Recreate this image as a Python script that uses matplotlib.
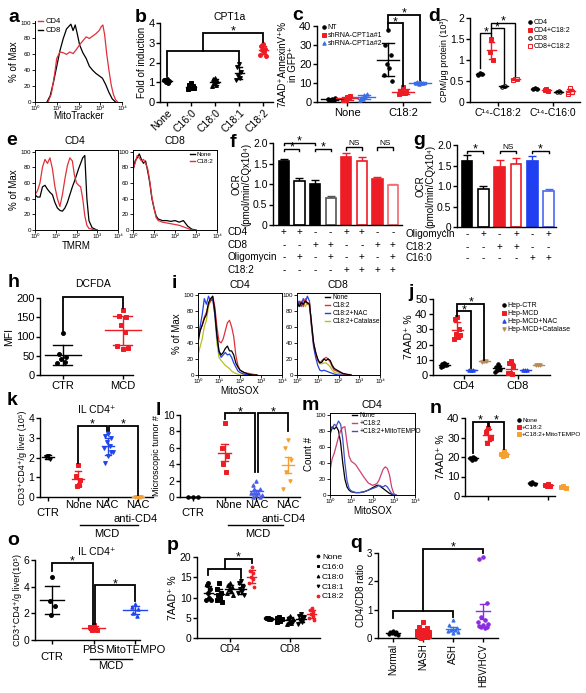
import matplotlib
matplotlib.use('Agg')
import matplotlib.pyplot as plt
import matplotlib.transforms as mtransforms
from matplotlib.lines import Line2D
import numpy as np

plt.rcParams['font.family'] = ['Liberation Sans', 'DejaVu Sans']
plt.rcParams['axes.linewidth'] = 1.0
plt.rcParams['xtick.major.width'] = 1.0
plt.rcParams['ytick.major.width'] = 1.0

RED = '#ee1c24'
BLUE = '#2346e8'
ORANGE = '#f5a030'
TAN = '#b88a58'
OLIVE = '#b8c020'
PURPLE = '#8a2be2'

# ---------------- data ----------------
# a: MitoTracker histograms (log10 x, % of max)
a_lx_cd4 = [0.6, 0.75, 0.9, 1.0, 1.15, 1.3, 1.45, 1.6, 1.75, 1.9, 2.05, 2.2, 2.35, 2.5, 2.65, 2.8, 2.95, 3.05, 3.12, 3.2, 3.3, 3.4, 3.5, 3.6, 3.7, 3.8]
a_y_cd4 = [0, 10, 35, 55, 63, 62, 60, 63, 61, 66, 72, 77, 82, 80, 83, 86, 90, 95, 97, 85, 60, 40, 22, 10, 3, 0]
a_lx_cd8 = [0.55, 0.7, 0.85, 1.0, 1.15, 1.3, 1.45, 1.55, 1.65, 1.75, 1.85, 1.95, 2.05, 2.2, 2.35, 2.5, 2.65, 2.8, 2.95, 3.1, 3.25, 3.4, 3.55, 3.7]
a_y_cd8 = [0, 8, 25, 45, 65, 80, 92, 95, 98, 90, 97, 85, 72, 62, 55, 45, 40, 36, 33, 30, 22, 12, 4, 0]

# b: CPT1a fold of induction
b_cats = ['None', 'C16:0', 'C18:0', 'C18:1', 'C18:2']
b_vals = [[1.15, 1.1, 1.05, 1.0, 0.95, 1.1],
          [0.95, 0.85, 0.8, 0.75, 0.7, 0.65, 0.7],
          [1.2, 1.15, 1.05, 1.0, 0.85, 0.8],
          [1.9, 1.75, 1.5, 1.3, 1.2, 1.1],
          [2.95, 2.85, 2.7, 2.65, 2.55, 2.4, 2.35]]

# c: 7AAD+AnnexinV+ in GFP+
c_cats = ['None', 'C18:2']
c_nt = [[1.5, 1.0, 2.0, 1.2, 0.8, 1.8], [38, 30, 25, 20, 18, 14, 11]]
c_sh1 = [[2.5, 1.5, 3.0, 1.0, 2.0, 1.2], [8, 6, 5.5, 5, 4.5, 4]]
c_sh2 = [[3.5, 2.0, 4.0, 1.5, 2.5, 1.0], [11, 10.5, 10, 9.5, 9.8, 10.2]]

# d: CPM/ug protein
d_cats = ['C\u00b9\u2074-C18:2', 'C\u00b9\u2074-C16:0']
d_cd4 = [[0.7, 0.65, 0.66], [0.33, 0.31, 0.32]]
d_cd4_182 = [[1.5, 1.2, 1.0], [0.3, 0.28, 0.27]]
d_cd8 = [[0.38, 0.36, 0.37], [0.26, 0.25, 0.24]]
d_cd8_182 = [[0.55, 0.52, 0.54], [0.33, 0.2, 0.24]]

# e: TMRM histograms
e4_lx = [0, 0.12, 0.24, 0.36, 0.48, 0.6, 0.72, 0.84, 0.96, 1.08, 1.2, 1.32, 1.44, 1.56, 1.68, 1.8, 1.9, 2.0, 2.1, 2.2, 2.3, 2.4, 2.5, 2.6, 2.75, 2.9, 3.0]
e4_red = [45, 50, 60, 80, 90, 85, 92, 78, 55, 40, 30, 45, 65, 82, 92, 88, 70, 60, 57, 55, 40, 18, 6, 2, 1, 0, 0]
e4_black = [45, 42, 42, 55, 57, 52, 48, 45, 35, 28, 25, 24, 28, 35, 45, 55, 62, 70, 78, 85, 92, 95, 40, 12, 3, 1, 0]
e8_lx = [0, 0.1, 0.2, 0.3, 0.4, 0.5, 0.6, 0.7, 0.8, 0.9, 1.0, 1.1, 1.2, 1.4, 1.6, 1.8, 2.0, 2.2, 2.4, 2.6, 2.8, 3.0]
e8_black = [75, 88, 92, 97, 90, 85, 88, 75, 60, 40, 28, 18, 14, 12, 12, 11, 12, 10, 12, 5, 1, 0]
e8_red = [78, 85, 95, 92, 88, 90, 85, 78, 62, 42, 28, 16, 12, 10, 9, 8, 7, 6, 4, 2, 0, 0]

# f: OCR bars
f_vals = [1.55, 1.07, 1.0, 0.66, 1.65, 1.57, 1.12, 0.97]
f_errs = [0.05, 0.07, 0.09, 0.05, 0.1, 0.1, 0.04, 0.03]
f_rows = {'CD4': '++--++--', 'CD8': '--++--++', 'Oligomycin': '-+-+-+-+', 'C18:2': '----++++'}

# g: OCR bars
g_vals = [1.62, 0.93, 1.47, 1.53, 1.62, 0.88]
g_errs = [0.14, 0.08, 0.16, 0.15, 0.1, 0.05]
g_rows = {'Oligomycin': '-+-+-+', 'C18:2': '--++--', 'C16:0': '----++'}

# h: DCFDA MFI
h_cats = ['CTR', 'MCD']
h_ctr = [108, 55, 48, 42, 35, 30]
h_mcd = [170, 152, 150, 130, 112, 75, 70, 68]

# i: MitoSOX histograms
i4_lx = [0, 0.1, 0.2, 0.3, 0.4, 0.5, 0.6, 0.7, 0.8, 0.9, 1.0, 1.1, 1.2, 1.3, 1.4, 1.5, 1.6, 1.7, 1.8, 1.9, 2.0, 2.2, 2.4, 2.6, 2.8]
i4_black = [40, 55, 62, 70, 75, 90, 95, 98, 80, 50, 30, 25, 28, 33, 36, 30, 30, 25, 15, 10, 6, 3, 1, 0, 0]
i4_red = [45, 55, 62, 72, 78, 88, 92, 98, 85, 60, 42, 40, 45, 55, 65, 68, 60, 48, 25, 12, 6, 3, 2, 1, 0]
i4_blue = [45, 60, 75, 95, 88, 98, 92, 95, 75, 48, 28, 22, 25, 28, 25, 26, 22, 15, 10, 5, 3, 1, 0, 0, 0]
i4_yel = [25, 35, 45, 60, 68, 85, 92, 95, 75, 40, 22, 18, 15, 12, 10, 8, 5, 3, 2, 1, 0, 0, 0, 0, 0]
i8_lx = [0, 0.1, 0.2, 0.3, 0.4, 0.5, 0.6, 0.7, 0.8, 0.9, 1.0, 1.1, 1.2, 1.3, 1.4, 1.5, 1.6, 1.7, 1.8, 2.0, 2.2, 2.4, 2.6]
i8_black = [92, 85, 90, 88, 92, 90, 88, 65, 40, 28, 20, 15, 16, 20, 18, 20, 18, 12, 8, 5, 2, 1, 0]
i8_red = [90, 88, 92, 85, 95, 88, 90, 62, 40, 28, 18, 15, 18, 20, 22, 20, 16, 10, 6, 4, 2, 0, 0]
i8_blue = [88, 92, 85, 95, 90, 98, 92, 60, 35, 22, 12, 6, 5, 6, 5, 4, 3, 2, 1, 0, 0, 0, 0]
i8_yel = [85, 90, 88, 92, 85, 90, 85, 60, 38, 25, 18, 14, 14, 15, 15, 13, 10, 6, 3, 2, 1, 0, 0]

# j: 7AAD+ %
j_cats = ['CD4', 'CD8']
j_ctr = [[8, 7, 6.5, 6, 7.5, 5.5], [7, 5, 4, 3, 6, 2]]
j_mcd = [[38, 37, 30, 27, 25, 24, 26], [9, 8, 6, 1, 0.5, 1]]
j_nac = [[3.5, 3.4, 3.6], [3.5, 3.6, 3.4]]
j_cat = [[9, 8.8, 9.2], [6.5, 6.3, 6.7]]

# k: IL CD4+ numbers
k_ctr = [2.1, 2.05, 1.9]
k_none = [1.6, 1.05, 0.85, 0.55, 0.6]
k_nac = [3.2, 3.1, 3.0, 2.8, 2.6, 2.5, 2.3, 2.1, 1.7, 2.3]
k_anti = [0, 0, 0, 0, 0]

# l: microscopic tumor #
l_ctr = [0, 0, 0]
l_none = [9, 6, 5, 4, 3]
l_nac = [2, 1.5, 1, 1, 0.5, 0.5, 0.3, 0.2, 0, 0, 0.5]
l_anti = [7, 6, 4.5, 3, 2, 1]

# m: MitoSOX histograms
m_lx = [0, 0.1, 0.2, 0.3, 0.4, 0.5, 0.6, 0.7, 0.8, 0.9, 1.0, 1.2, 1.4, 1.6, 1.8, 2.0, 2.2, 2.3, 2.4, 2.5, 2.6, 2.7, 2.8, 2.9, 3.0, 3.1]
m_black = [75, 85, 82, 85, 80, 65, 40, 20, 10, 6, 4, 3, 3, 4, 6, 9, 12, 12, 10, 8, 6, 4, 2, 1, 0, 0]
m_red = [30, 45, 52, 62, 72, 80, 84, 85, 65, 48, 42, 38, 30, 22, 15, 12, 14, 18, 25, 32, 35, 33, 25, 10, 2, 0]
m_blue = [85, 82, 88, 86, 92, 88, 70, 40, 18, 8, 5, 3, 3, 4, 6, 8, 10, 12, 11, 10, 12, 10, 6, 2, 0, 0]

# n: 7AAD+ %
n_none = [[20, 19.5, 19, 18.5, 19.5], [7, 6.5, 6, 6.2]]
n_c182 = [[35, 33, 30, 27], [6, 5.5, 5, 5.2]]
n_mito = [[23, 21.5, 21, 20.5], [5, 4.5, 4, 4.5]]

# o: IL CD4+ numbers
o_ctr = [4.75, 2.9, 2.55, 1.9]
o_pbs = [1.1, 0.95, 0.75, 0.75, 0.9]
o_mito = [2.7, 2.45, 2.3, 2.0, 1.8]

# p: 7AAD+ %
p_cats = ['CD4', 'CD8']
p_names = ['None', 'C16:0', 'C18:0', 'C18:1', 'C18:2']
p_vals = [[[13.5, 13, 12, 11, 10, 9.5, 9.5], [5, 4.9, 4.8, 4.7, 4.9, 5, 4.6]],
          [[13.5, 12, 11, 10.5, 10, 9.5, 9], [5.2, 5, 4.6, 4.5, 4.3, 4, 4.8]],
          [[13.5, 13, 12.5, 12, 11.5, 11, 10.5], [5.5, 5, 4.5, 4, 3.8, 3.5, 4.7]],
          [[14, 13.5, 12.5, 12, 11.5, 11, 10.5], [6, 5.5, 5, 4.5, 4, 3.5, 5.2]],
          [[17.5, 16.5, 16, 15, 14.5, 13.5, 12.5], [7.5, 7, 6.5, 6, 5.5, 5, 4.5]]]

# q: CD4/CD8 ratio
q_cats = ['Normal', 'NASH', 'ASH', 'HBV/HCV']
q_normal = [0.25, 0.22, 0.2, 0.18, 0.15, 0.15, 0.12]
q_nash = [0.55, 0.4, 0.35, 0.3, 0.3, 0.25, 0.2, 0.2, 0.18, 0.15, 0.12, 0.1, 0.1, 0.08, 0.05, 0.05, 0.02, 0.0, 0.15, 0.22]
q_ash = [0.62, 0.45, 0.35, 0.3, 0.28, 0.25, 0.2, 0.18]
q_hbv = [2.85, 2.8, 1.25, 0.75, 0.65, 0.55, 0.5, 0.45, 0.42, 0.4, 0.38, 0.35]

# ---------------- helpers ----------------
W, H = 586, 693
fig = plt.figure(figsize=(W / 100, H / 100), dpi=100)


def add_ax(x0, y0, x1, y1):
    return fig.add_axes([x0 / W, 1 - y1 / H, (x1 - x0) / W, (y1 - y0) / H])


def ftext(x, y, s, **kw):
    fig.text(x / W, 1 - y / H, s, **kw)


def letter(x, y, s):
    ftext(x, y, s, fontsize=14, fontweight='bold', va='baseline', ha='left')


def scat_style(ax, fs=8):
    for s in ['top', 'right']:
        ax.spines[s].set_visible(False)
    ax.tick_params(direction='out', length=3, width=1, labelsize=fs, pad=1)


def group(ax, x, vals, color, marker='o', ms=3, err='sd', mfc=None, spread=0.08,
          ecol=None, mw=0.2, cw=0.1, lw=1.0):
    v = np.asarray(vals, float)
    n = len(v)
    pattern = np.array([0, -1, 1, -0.5, 0.5, -1.5, 1.5])
    offs = spread * np.resize(pattern, n)
    ax.plot(x + offs, v, ls='none', marker=marker, ms=ms, mec=color,
            mfc=color if mfc is None else mfc, mew=0.7, clip_on=False, zorder=3)
    m = v.mean()
    e = v.std() if err == 'sd' else v.std(ddof=1) / np.sqrt(n)
    ec = color if ecol is None else ecol
    ax.plot([x - mw, x + mw], [m, m], color=ec, lw=lw, zorder=4, clip_on=False)
    ax.plot([x, x], [m - e, m + e], color=ec, lw=lw, zorder=4, clip_on=False)
    ax.plot([x - cw, x + cw], [m - e, m - e], color=ec, lw=lw, zorder=4, clip_on=False)
    ax.plot([x - cw, x + cw], [m + e, m + e], color=ec, lw=lw, zorder=4, clip_on=False)


def bracket(ax, x1, x2, y, y1, y2, s=None, fs=9, lw=1.3, dy=-3.5):
    ax.plot([x1, x1, x2, x2], [y1, y, y, y2], color='k', lw=lw, clip_on=False,
            solid_joinstyle='miter', zorder=5)
    if s:
        ax.annotate(s, ((x1 + x2) / 2, y), xytext=(0, dy), textcoords='offset points',
                    ha='center', va='bottom', fontsize=fs, annotation_clip=False)


def hist_ax(ax, curves, box=True):
    for lx, ly, col in curves:
        ax.plot(10 ** np.asarray(lx, float), ly, color=col, lw=0.9)
    ax.set_xscale('log')
    ax.set_xlim(1, 1e4)
    ax.set_ylim(0, 102)
    ax.set_xticks([1, 10, 100, 1e3, 1e4])
    ax.set_xticklabels(['10\u2070', '10\u00b9', '10\u00b2', '10\u00b3', '10\u2074'])
    ax.minorticks_off()
    ax.set_yticks([0, 20, 40, 60, 80, 100])
    ax.tick_params(labelsize=4.5, length=2, width=0.6, pad=1)
    for s in ax.spines.values():
        s.set_linewidth(0.7)
    if not box:
        ax.spines['top'].set_visible(False)
        ax.spines['right'].set_visible(False)


def leg(ax, handles, labels, x, y, fs=5, hl=0.8, ls=0.2):
    ax.legend(handles, labels, loc='upper left', bbox_to_anchor=(x / W, 1 - y / H),
              bbox_transform=fig.transFigure, frameon=False, fontsize=fs,
              borderaxespad=0, borderpad=0, handlelength=hl, handletextpad=0.3,
              labelspacing=ls)


def mk(color, marker, ms=2.5, mfc=None):
    return Line2D([], [], ls='none', marker=marker, ms=ms, color=color,
                  mfc=color if mfc is None else mfc, mew=0.7)


def ln(color):
    return Line2D([], [], color=color, lw=1)


def bars(ax, vals, errs, fcs, ecs, width=0.66):
    x = np.arange(len(vals))
    ax.bar(x, vals, width, color=fcs, edgecolor=ecs, linewidth=1.2, zorder=2)
    for xi, v, e, ec in zip(x, vals, errs, ecs):
        ax.errorbar(xi, v, yerr=[[0], [e]], color=ec, capsize=3, lw=1, capthick=1, zorder=1)
    for s in ['top', 'right']:
        ax.spines[s].set_visible(False)
    ax.set_xticks([])
    ax.set_ylim(0, 2)
    ax.tick_params(direction='out', length=3, labelsize=7.5, pad=1)


def sign_rows(ax, rows, label_x, ys, fs=7.2):
    tr = mtransforms.blended_transform_factory(ax.transData, fig.transFigure)
    for (name, signs), yy in zip(rows.items(), ys):
        ftext(label_x, yy, name, fontsize=fs, va='center', ha='left')
        for i, sg in enumerate(signs):
            ax.text(i, 1 - yy / H, sg, transform=tr, fontsize=fs, ha='center', va='center')


# ---------------- a ----------------
ax = add_ax(35, 21, 122, 102)
hist_ax(ax, [(a_lx_cd8, a_y_cd8, 'k'), (a_lx_cd4, a_y_cd4, '#e0303a')], box=False)
ax.set_ylabel('% of Max', fontsize=7, labelpad=1)
ax.set_xlabel('MitoTracker', fontsize=7, labelpad=0)
leg(ax, [ln('#e0303a'), ln('k')], ['CD4', 'CD8'], 38, 18, fs=5.5, hl=0.7)
letter(8, 22, 'a')

# ---------------- b ----------------
ax = add_ax(160, 23, 273, 102)
scat_style(ax)
b_markers = ['o', 's', '^', 'v', 'o']
for i, vals in enumerate(b_vals):
    col = RED if i == 4 else 'k'
    group(ax, i, vals, col, b_markers[i], ms=2.8)
ax.set_xlim(-0.3, 4.4)
ax.set_ylim(0, 4)
ax.set_yticks([0, 1, 2, 3, 4])
ax.set_xticks(range(5))
ax.set_xticklabels(b_cats, rotation=45, ha='right', rotation_mode='anchor', fontsize=7.5)
ax.set_ylabel('Fold of induction', fontsize=7, labelpad=1)
bracket(ax, 0, 3, 2.6, 1.3, 1.95)
bracket(ax, 1.5, 4, 3.5, 2.6, 3.05, '*')
ftext(230, 17, 'CPT1a', fontsize=7.5, ha='center', va='center')
letter(135, 22, 'b')

# ---------------- c ----------------
ax = add_ax(317, 26, 430, 102)
scat_style(ax)
offs = [-0.27, 0, 0.3]
for ci in range(2):
    group(ax, ci + offs[0], c_nt[ci], 'k', 'o', ms=2.5, spread=0.05)
    group(ax, ci + offs[1], c_sh1[ci], RED, 's', ms=2.5, spread=0.05)
    group(ax, ci + offs[2], c_sh2[ci], '#3a6ee8', '^', ms=2.5, spread=0.05)
ax.set_xlim(-0.54, 1.48)
ax.set_ylim(0, 40)
ax.set_yticks([0, 10, 20, 30, 40])
ax.set_xticks([0, 1])
ax.set_xticklabels(c_cats, fontsize=8)
ax.set_ylabel('7AAD\u207aAnnexinV\u207a%\nin GFP\u207a', fontsize=7, labelpad=1, linespacing=1.0)
bracket(ax, 1 - 0.27, 1, 41.5, 38, 8.5, '*')
bracket(ax, 1 - 0.27, 1.3, 46, 41.5, 11.5, '*')
leg(ax, [mk('k', 'o'), mk(RED, 's'), mk('#3a6ee8', '^')],
    ['NT', 'shRNA-CPT1a#1', 'shRNA-CPT1a#2'], 322, 24, fs=5, hl=0.5, ls=0.15)
letter(292, 20, 'c')

# ---------------- d ----------------
ax = add_ax(470, 18, 580, 102)
scat_style(ax, fs=7.5)
doffs = [-0.32, -0.11, 0.11, 0.32]
for ci in range(2):
    group(ax, ci + doffs[0], d_cd4[ci], 'k', 'o', ms=2.5, spread=0.03, mw=0.08, cw=0.05)
    group(ax, ci + doffs[1], d_cd4_182[ci], RED, 's', ms=2.5, spread=0.03, mw=0.08, cw=0.05)
    group(ax, ci + doffs[2], d_cd8[ci], 'k', 'o', ms=2.5, mfc='w', spread=0.03, mw=0.08, cw=0.05)
    group(ax, ci + doffs[3], d_cd8_182[ci], RED, 's', ms=2.5, mfc='w', spread=0.03, mw=0.08, cw=0.05)
ax.set_xlim(-0.5, 1.5)
ax.set_ylim(0, 2)
ax.set_yticks([0, 0.5, 1, 1.5, 2])
ax.set_yticklabels(['0', '0.5', '1', '1.5', '2'])
ax.set_xticks([0, 1])
ax.set_xticklabels(d_cats, fontsize=7.5)
ax.set_ylabel('CPM/\u03bcg protein (10\u00b3)', fontsize=6.5, labelpad=1)
bracket(ax, doffs[0], doffs[1], 1.64, 0.8, 1.58, '*', lw=1.0)
bracket(ax, doffs[1], doffs[2], 1.76, 1.64, 0.45, '*', lw=1.0)
bracket(ax, doffs[1], doffs[3], 1.88, 1.76, 0.62, '*', lw=1.0)
leg(ax, [mk('k', 'o'), mk(RED, 's'), mk('k', 'o', mfc='w'), mk(RED, 's', mfc='w')],
    ['CD4', 'CD4+C18:2', 'CD8', 'CD8+C18:2'], 528, 19, fs=5, hl=0.5, ls=0.15)
letter(428, 21, 'd')

# ---------------- e ----------------
ax = add_ax(35, 150, 118, 230)
hist_ax(ax, [(e4_lx, e4_black, 'k'), (e4_lx, e4_red, '#e0303a')])
ax.set_ylabel('% of Max', fontsize=7, labelpad=1)
ax.set_xlabel('TMRM', fontsize=7, labelpad=1)
ftext(75, 141, 'CD4', fontsize=7.5, ha='center', va='center')
ax = add_ax(133, 150, 217, 230)
hist_ax(ax, [(e8_lx, e8_black, 'k'), (e8_lx, e8_red, '#e0303a')])
ftext(175, 141, 'CD8', fontsize=7.5, ha='center', va='center')
leg(ax, [ln('k'), ln('#e0303a')], ['None', 'C18:2'], 190, 152, fs=4.5, hl=0.8, ls=0.2)
letter(6, 145, 'e')

# ---------------- f ----------------
ax = add_ax(273, 143, 402, 225)
f_fc = ['k', 'w', 'k', 'w', RED, 'w', RED, 'w']
f_ec = ['k', 'k', 'k', '#555555', RED, RED, RED, '#f06a70']
bars(ax, f_vals, f_errs, f_fc, f_ec)
ax.set_xlim(-0.7, 7.58)
ax.set_yticks([0, 0.5, 1.0, 1.5, 2.0])
ax.set_yticklabels(['0', '0.5', '1.0', '1.5', '2.0'])
ax.set_ylabel('OCR\n(pmol/min/CQx10\u2074)', fontsize=7, labelpad=1, linespacing=1.0)
bracket(ax, 0, 1, 1.86, 1.8, 1.8, '*', lw=1.0)
bracket(ax, 0, 2, 2.0, 1.94, 1.94, '*', lw=1.0)
bracket(ax, 2, 3, 1.86, 1.8, 1.8, '*', lw=1.0)
bracket(ax, 4, 5, 1.9, 1.84, 1.84, 'NS', fs=6, lw=1.0, dy=0)
bracket(ax, 6, 7, 1.9, 1.84, 1.84, 'NS', fs=6, lw=1.0, dy=0)
sign_rows(ax, f_rows, 227, [232, 245, 257, 270])
letter(230, 147, 'f')

# ---------------- g ----------------
ax = add_ax(457, 145, 556, 227)
g_fc = ['k', 'w', RED, 'w', '#1f3ff0', 'w']
g_ec = ['k', 'k', RED, RED, '#1f3ff0', '#4a68f0']
bars(ax, g_vals, g_errs, g_fc, g_ec, width=0.66)
ax.set_xlim(-0.62, 5.45)
ax.set_yticks([0, 0.5, 1.0, 1.5, 2.0])
ax.set_yticklabels(['.0', '0.5', '1.0', '1.5', '2.0'])
ax.set_ylabel('OCR\n(pmol/min/CQx10\u2074)', fontsize=7, labelpad=1, linespacing=1.0)
bracket(ax, 0, 1, 1.86, 1.8, 1.8, '*', lw=1.0)
bracket(ax, 2, 3, 1.86, 1.8, 1.8, 'NS', fs=6, lw=1.0, dy=0)
bracket(ax, 4, 5, 1.86, 1.8, 1.8, '*', lw=1.0)
sign_rows(ax, g_rows, 405, [234, 247, 258])
letter(413, 145, 'g')

# ---------------- h ----------------
ax = add_ax(40, 298, 133, 375)
scat_style(ax)
group(ax, 0, h_ctr, 'k', 'o', ms=2.8, spread=0.06, mw=0.3, cw=0.16)
group(ax, 1, h_mcd, RED, 's', ms=2.8, spread=0.06, mw=0.3, cw=0.16)
ax.set_xlim(-0.38, 1.17)
ax.set_ylim(0, 200)
ax.set_yticks([0, 50, 100, 150, 200])
ax.set_xticks([0, 1])
ax.set_xticklabels(h_cats, fontsize=8)
ax.set_ylabel('MFI', fontsize=7.5, labelpad=1)
bracket(ax, 0, 1, 203, 115, 175)
ftext(93, 284, 'DCFDA', fontsize=7.5, ha='center', va='center')
letter(8, 287, 'h')

# ---------------- i ----------------
ax = add_ax(198, 293, 282, 375)
hist_ax(ax, [(i4_lx, i4_yel, OLIVE), (i4_lx, i4_blue, '#2040e0'),
             (i4_lx, i4_red, '#e0303a'), (i4_lx, i4_black, 'k')])
ax.set_ylabel('% of Max', fontsize=7, labelpad=1)
ax.set_xlabel('MitoSOX', fontsize=7, labelpad=1)
ftext(240, 285, 'CD4', fontsize=7.5, ha='center', va='center')
ax = add_ax(297, 293, 380, 375)
hist_ax(ax, [(i8_lx, i8_yel, OLIVE), (i8_lx, i8_blue, '#2040e0'),
             (i8_lx, i8_red, '#e0303a'), (i8_lx, i8_black, 'k')])
ftext(338, 285, 'CD8', fontsize=7.5, ha='center', va='center')
leg(ax, [ln('k'), ln('#e0303a'), ln('#2040e0'), ln(OLIVE)],
    ['None', 'C18:2', 'C18:2+NAC', 'C18:2+Catalase'], 325, 294, fs=4.8, hl=0.8, ls=0.15)
letter(172, 288, 'i')

# ---------------- j ----------------
ax = add_ax(433, 299, 550, 375)
scat_style(ax)
joffs = [-0.36, -0.12, 0.14, 0.38]
for ci in range(2):
    group(ax, ci + joffs[0], j_ctr[ci], 'k', 'o', ms=2.5, spread=0.04, mw=0.1, cw=0.06)
    group(ax, ci + joffs[1], j_mcd[ci], RED, 's', ms=2.5, spread=0.04, mw=0.1, cw=0.06)
    group(ax, ci + joffs[2], j_nac[ci], BLUE, '^', ms=2.5, spread=0.04, mw=0.1, cw=0.06)
    group(ax, ci + joffs[3], j_cat[ci], TAN, 'v', ms=2.5, spread=0.04, mw=0.1, cw=0.06)
ax.set_xlim(-0.57, 1.6)
ax.set_ylim(0, 50)
ax.set_yticks([0, 10, 20, 30, 40, 50])
ax.set_xticks([0, 1])
ax.set_xticklabels(j_cats, fontsize=8)
ax.set_ylabel('7AAD\u207a %', fontsize=7.5, labelpad=1)
bracket(ax, joffs[1], joffs[2], 42, 39, 4.5, '*')
bracket(ax, joffs[1], joffs[3], 47, 42, 10, '*')
leg(ax, [mk('k', 'o'), mk(RED, 's'), mk(BLUE, '^'), mk(TAN, 'v')],
    ['Hep-CTR', 'Hep-MCD', 'Hep-MCD+NAC', 'Hep-MCD+Catalase'], 502, 302, fs=5, hl=0.5, ls=0.15)
letter(408, 297, 'j')

# ---------------- k ----------------
ax = add_ax(40, 418, 153, 497)
scat_style(ax, fs=7.5)
group(ax, 0, k_ctr, 'k', 'v', ms=2.8, spread=0.08)
group(ax, 1, k_none, RED, 's', ms=2.8, spread=0.08)
group(ax, 2, k_nac, BLUE, 'v', ms=2.8, spread=0.1)
group(ax, 3, k_anti, ORANGE, 'v', ms=2.5, spread=0.1)
ax.set_xlim(-0.27, 3.5)
ax.set_ylim(0, 4)
ax.set_yticks([0, 1, 2, 3, 4])
ax.set_xticks([0, 1, 2, 3])
ax.set_xticklabels([])
ax.set_ylabel('CD3\u207aCD4\u207a/g liver (10\u2075)', fontsize=6.5, labelpad=1)
bracket(ax, 1, 1.97, 3.6, 1.7, 3.35, '*')
bracket(ax, 2.03, 3, 3.6, 3.35, 0.1, '*')
for xx, yy, s in [(48, 513, 'CTR'), (78, 505, 'None'), (107, 505, 'NAC'), (138, 505, 'NAC'), (136, 519, 'anti-CD4')]:
    ftext(xx, yy, s, fontsize=8, ha='center', va='center')
fig.add_artist(Line2D([80 / W, 138 / W], [1 - 525 / H, 1 - 525 / H], color='k', lw=1))
ftext(107, 534, 'MCD', fontsize=8, ha='center', va='center')
ftext(97, 410, 'IL CD4\u207a', fontsize=7.5, ha='center', va='center')
letter(7, 405, 'k')

# ---------------- l ----------------
ax = add_ax(180, 415, 300, 497)
scat_style(ax, fs=7.5)
group(ax, 0, l_ctr, 'k', 'o', ms=2.5, spread=0.15, err='sem')
group(ax, 1, l_none, RED, 's', ms=2.8, spread=0.08, err='sem')
group(ax, 2, l_nac, '#4a5ce8', '^', ms=2.5, spread=0.12, err='sem')
group(ax, 3, l_anti, ORANGE, 'v', ms=2.5, spread=0.1, err='sem')
ax.set_xlim(-0.41, 3.38)
ax.set_ylim(0, 10)
ax.set_yticks([0, 2, 4, 6, 8, 10])
ax.set_xticks([0, 1, 2, 3])
ax.set_xticklabels([])
ax.set_ylabel('Microscopic tumor #', fontsize=6.5, labelpad=1)
bracket(ax, 1, 1.96, 10.2, 9.5, 3.0, '*')
bracket(ax, 2.04, 3, 10.2, 3.0, 8.0, '*')
for xx, yy, s in [(193, 513, 'CTR'), (228, 505, 'None'), (257, 505, 'NAC'), (288, 505, 'NAC'), (284, 519, 'anti-CD4')]:
    ftext(xx, yy, s, fontsize=8, ha='center', va='center')
fig.add_artist(Line2D([228 / W, 283 / W], [1 - 525 / H, 1 - 525 / H], color='k', lw=1))
ftext(258, 534, 'MCD', fontsize=8, ha='center', va='center')
letter(156, 415, 'l')

# ---------------- m ----------------
ax = add_ax(330, 413, 415, 495)
hist_ax(ax, [(m_lx, m_black, 'k'), (m_lx, m_red, '#d04070'), (m_lx, m_blue, '#4050c0')])
ax.set_ylabel('Count #', fontsize=7, labelpad=1)
ax.set_xlabel('MitoSOX', fontsize=7, labelpad=1)
ftext(372, 405, 'CD4', fontsize=7.5, ha='center', va='center')
leg(ax, [ln('k'), ln('#d04070'), ln('#4050c0')],
    ['None', '+C18:2', '+C18:2+MitoTEMPO'], 352, 412, fs=4.8, hl=0.8, ls=0.15)
letter(302, 410, 'm')

# ---------------- n ----------------
ax = add_ax(465, 418, 555, 496)
scat_style(ax)
noffs = [-0.26, 0, 0.26]
for ci in range(2):
    group(ax, ci + noffs[0], n_none[ci], 'k', 'o', ms=2.5, spread=0.04, mw=0.08, cw=0.05)
    group(ax, ci + noffs[1], n_c182[ci], RED, 's', ms=2.5, spread=0.04, mw=0.08, cw=0.05)
    group(ax, ci + noffs[2], n_mito[ci], ORANGE, 's', ms=2.5, spread=0.04, mw=0.08, cw=0.05)
ax.set_xlim(-0.39, 1.12)
ax.set_ylim(0, 40)
ax.set_yticks([0, 10, 20, 30, 40])
ax.set_xticks([0, 1])
ax.set_xticklabels([])
ax.set_ylabel('7AAD\u207a %', fontsize=7.5, labelpad=1)
bracket(ax, noffs[0], -0.01, 38, 22, 36, '*')
bracket(ax, 0.01, noffs[2], 38, 36, 24, '*')
leg(ax, [mk('k', 'o'), mk(RED, 's'), mk(ORANGE, 's')],
    ['None', '+C18:2', '+C18:2+MitoTEMPO'], 517, 418, fs=4.6, hl=0.5, ls=0.2)
letter(430, 413, 'n')

# ---------------- o ----------------
ax = add_ax(35, 560, 140, 640)
scat_style(ax, fs=7.5)
group(ax, 0, o_ctr, 'k', 'o', ms=2.8, spread=0.06, mw=0.28, cw=0.16)
group(ax, 1, o_pbs, RED, 's', ms=2.8, spread=0.08, mw=0.28, cw=0.1)
group(ax, 2, o_mito, BLUE, '^', ms=2.5, spread=0.08, mw=0.28, cw=0.1)
ax.set_xlim(-0.41, 2.12)
ax.set_ylim(0, 6)
ax.set_yticks([0, 2, 4, 6])
ax.set_xticks([0, 1, 2])
ax.set_xticklabels([])
ax.set_ylabel('CD3\u207aCD4\u207a/g liver(10\u2075)', fontsize=6.5, labelpad=1)
bracket(ax, 0, 0.98, 5.8, 5.2, 1.2, '*')
bracket(ax, 1.04, 2, 4.1, 1.2, 2.9, '*')
for xx, yy, s in [(52, 657, 'CTR'), (93, 650, 'PBS'), (135, 650, 'MitoTEMPO')]:
    ftext(xx, yy, s, fontsize=8, ha='center', va='center')
fig.add_artist(Line2D([90 / W, 132 / W], [1 - 659 / H, 1 - 659 / H], color='k', lw=1))
ftext(111, 666, 'MCD', fontsize=8, ha='center', va='center')
ftext(97, 552, 'IL CD4\u207a', fontsize=7.5, ha='center', va='center')
letter(7, 545, 'o')

# ---------------- p ----------------
ax = add_ax(197, 557, 320, 638)
scat_style(ax, fs=7.5)
poffs = [-0.36, -0.18, 0, 0.18, 0.36]
p_markers = ['o', 's', '^', 'v', 'o']
for gi in range(5):
    col = RED if gi == 4 else 'k'
    ms = 2.0 if gi == 4 else 2.8
    for ci in range(2):
        group(ax, ci + poffs[gi], p_vals[gi][ci], col, p_markers[gi], ms=ms, spread=0.03,
              mw=0.08, cw=0.05)
ax.set_xlim(-0.55, 1.5)
ax.set_ylim(0, 20)
ax.set_yticks([0, 5, 10, 15, 20])
ax.set_xticks([0, 1])
ax.set_xticklabels(p_cats, fontsize=7.5)
ax.set_ylabel('7AAD\u207a %', fontsize=7.5, labelpad=1)
bracket(ax, poffs[0], poffs[3], 17, 15.6, 14.8)
bracket(ax, (poffs[0] + poffs[3]) / 2, poffs[4], 19.5, 17, 18.5, '*')
leg(ax, [mk('k', 'o', 2), mk('k', 's', 2), mk('k', '^', 2), mk('k', 'v', 2), mk(RED, 'o', 2)],
    p_names, 317, 553, fs=6, hl=0.3, ls=0.25)
letter(167, 550, 'p')

# ---------------- q ----------------
ax = add_ax(378, 553, 498, 638)
scat_style(ax, fs=7)
group(ax, 0, q_normal, 'k', 'o', ms=2.3, spread=0.1, err='sem', mw=0.22)
group(ax, 1, q_nash, RED, 's', ms=2.5, spread=0.13, err='sem', mw=0.22)
group(ax, 2, q_ash, '#3a6ee8', '^', ms=2.3, spread=0.12, err='sem', mw=0.22)
group(ax, 3, q_hbv, PURPLE, 'o', ms=2.5, spread=0.12, err='sem', mw=0.22)
ax.set_xlim(-0.5, 3.5)
ax.set_ylim(0, 3)
ax.set_yticks([0, 1, 2, 3])
ax.set_xticks([0, 1, 2, 3])
ax.set_xticklabels(q_cats, rotation=90, fontsize=7)
ax.set_ylabel('CD4/CD8 ratio', fontsize=7, labelpad=1)
bracket(ax, 0, 2, 0.95, 0.7, 0.75)
bracket(ax, 1, 3, 3.15, 0.95, 3.0, '*')
letter(350, 548, 'q')

fig.savefig('out.png', dpi=100)
